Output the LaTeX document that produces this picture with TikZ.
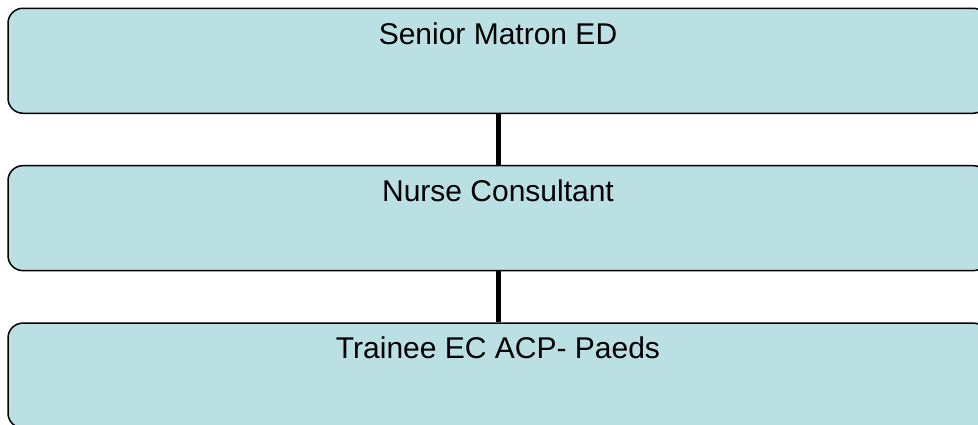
\documentclass[tikz,border=0pt]{standalone}
\usepackage{fontspec}
\setmainfont{Liberation Sans}
\usepackage{tikz}
\definecolor{boxfill}{RGB}{186,224,228}
\tikzstyle{block} = [rectangle, draw, fill=boxfill, line width=1.5pt,
minimum width=980pt, minimum height=105pt, rounded corners=15pt]
\tikzstyle{title} = [anchor=base, yshift=-36.5pt, inner sep=0pt,
font=\fontsize{30pt}{36pt}\selectfont]
\tikzstyle{line} = [draw, line width=5pt]

\begin{document}
\begin{tikzpicture}[node distance = 157.4pt]
\useasboundingbox (0,0) rectangle (978pt,-424pt);
% Place nodes
\node [block, label={[title]north:Senior Matron ED}] (matron) at (498pt,-60.75pt) {};
\node [block, below of=matron, label={[title]north:Nurse Consultant}] (consultant) {};
\node [block, below of=consultant, label={[title]north:Trainee EC ACP- Paeds}] (trainee) {};
% Draw edges
\path [line] (matron) -- (consultant);
\path [line] (consultant) -- (trainee);
\end{tikzpicture}
\end{document}
